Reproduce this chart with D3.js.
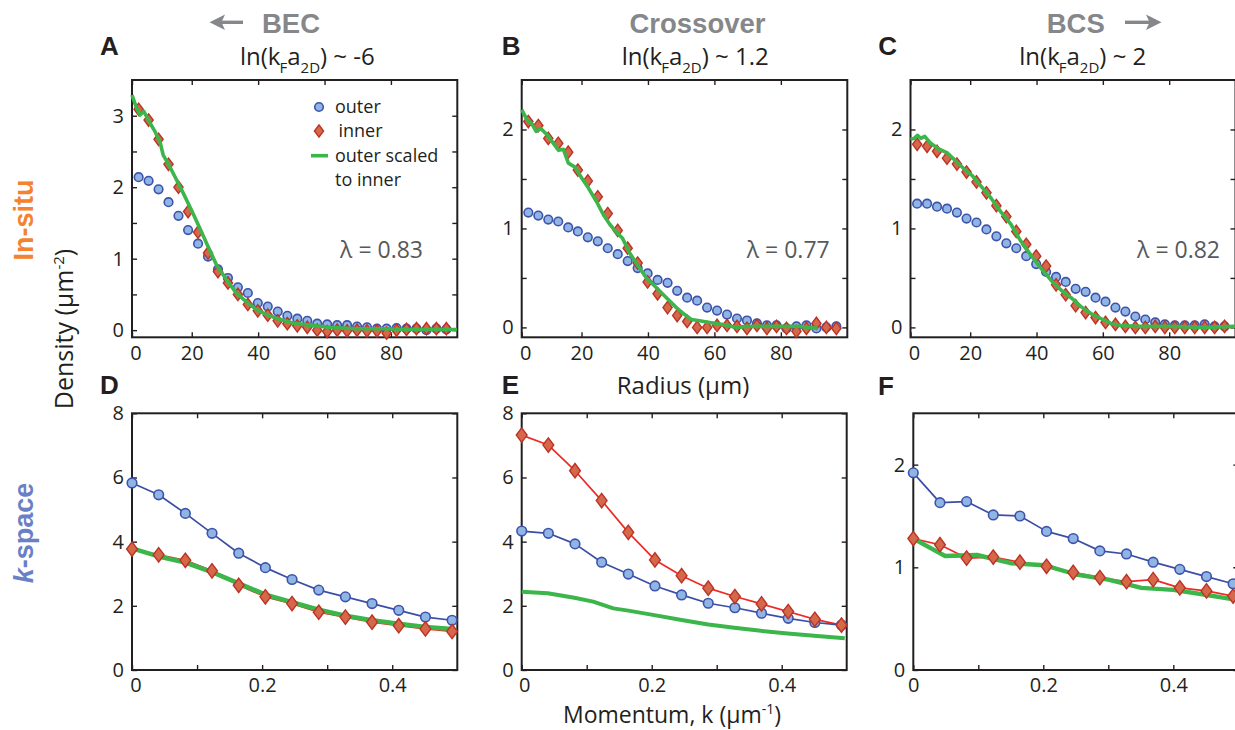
<!DOCTYPE html>
<html><head><meta charset="utf-8">
<script src="https://cdn.jsdelivr.net/npm/d3@7"></script>
<style>body{margin:0;background:#fff} svg{display:block}</style>
</head><body><svg id="c" width="1235" height="730"></svg>
<script>
// ---------- DATA ----------
const inSituR = [4.0, 7.0, 10.0, 13.0, 16.0, 18.9, 21.9, 24.9, 27.9, 30.9, 33.9, 36.9, 39.9, 42.9, 45.9, 48.8,
  51.8, 54.8, 57.8, 60.8, 63.8, 66.8, 69.8, 72.8, 75.8, 78.7, 81.7, 84.7, 87.7, 90.7, 93.7, 96.7];

const outerA = [2.14, 2.09, 1.97, 1.79, 1.60, 1.40, 1.21, 1.03, 0.85, 0.73, 0.60, 0.52, 0.38, 0.33, 0.26, 0.20,
  0.16, 0.13, 0.09, 0.08, 0.07, 0.07, 0.05, 0.04, 0.02, 0.02, 0.03, 0.02, 0.02, 0.00, 0.02, 0.01];
const innerA = [3.09, 2.94, 2.67, 2.32, 2.00, 1.66, 1.37, 1.08, 0.82, 0.66, 0.50, 0.36, 0.27, 0.21, 0.13, 0.09,
  0.06, 0.04, 0.00, -0.02, 0.00, -0.01, 0.00, -0.01, -0.01, -0.04, 0.00, 0.01, 0.02, 0.02, 0.02, 0.02];
const scaledAr = [2.0, 3.2, 4.4, 5.6, 6.9, 8.9, 10.4, 11.4, 12.9, 14.9, 17.4, 19.9, 22.4, 24.9, 27.4, 30.4, 33.4,
  36.4, 39.4, 42.4, 45.9, 50.4, 55.4, 61.4, 69.4, 77.4, 85.4, 93.4, 99.9];
const scaledA = [3.29, 3.13, 3.01, 3.06, 2.94, 2.78, 2.64, 2.45, 2.33, 2.15, 1.92, 1.68, 1.43, 1.17, 0.92, 0.71, 0.52,
  0.40, 0.29, 0.22, 0.16, 0.10, 0.07, 0.04, 0.02, 0.02, 0.01, 0.01, 0.01];

const outerB = [1.16, 1.13, 1.09, 1.07, 1.01, 0.97, 0.91, 0.87, 0.80, 0.74, 0.67, 0.60, 0.545, 0.48, 0.45, 0.37,
  0.30, 0.27, 0.20, 0.17, 0.13, 0.09, 0.07, 0.04, 0.02, 0.02, -0.01, 0.01, 0.02, -0.01, 0.00, 0.01];
const innerB = [2.08, 2.04, 1.91, 1.86, 1.77, 1.59, 1.48, 1.32, 1.15, 0.98, 0.80, 0.65, 0.46, 0.34, 0.20, 0.12,
  0.06, 0.00, 0.00, 0.02, 0.02, 0.01, -0.01, 0.02, -0.01, 0.01, -0.01, -0.04, -0.01, 0.04, 0.00, -0.01];
const scaledBr = [2.05, 3.55, 5.05, 6.35, 7.75, 9.55, 11.55, 13.05, 14.55, 16.05, 18.05, 20.05, 22.05, 24.55, 26.75,
  28.55, 30.55, 32.35, 34.55, 37.05, 39.55, 42.55, 45.55, 48.55, 51.05, 53.05, 55.05, 58.55, 62.55, 66.55, 69.55,
  74.55, 80.55, 85.55, 91.05];
const scaledB = [2.20, 2.10, 2.06, 1.98, 2.01, 1.95, 1.86, 1.79, 1.80, 1.66, 1.62, 1.51, 1.41, 1.27, 1.13,
  1.04, 0.96, 0.90, 0.75, 0.62, 0.50, 0.40, 0.30, 0.20, 0.13, 0.08, 0.07, 0.05, 0.03, 0.00, 0.01,
  0.01, 0.01, 0.01, -0.01];

const outerC = [1.25, 1.25, 1.22, 1.20, 1.16, 1.10, 1.06, 0.99, 0.92, 0.85, 0.80, 0.72, 0.64, 0.56, 0.51, 0.46,
  0.39, 0.36, 0.30, 0.26, 0.20, 0.16, 0.11, 0.08, 0.05, 0.03, 0.02, 0.02, 0.02, 0.03, 0.01, 0.01];
const innerC = [1.85, 1.83, 1.78, 1.71, 1.65, 1.57, 1.47, 1.36, 1.23, 1.12, 0.97, 0.84, 0.72, 0.62, 0.43, 0.33,
  0.22, 0.15, 0.10, 0.05, 0.03, 0.01, 0.00, 0.00, 0.01, 0.00, 0.00, 0.00, 0.00, 0.00, 0.00, 0.01];
const scaledCr = [2.0, 3.1, 4.1, 5.1, 6.3, 8.1, 10.2, 13.2, 15.7, 18.2, 20.7, 23.7, 26.2, 29.2, 32.3, 35.3, 38.3,
  41.3, 44.3, 47.3, 50.4, 53.4, 56.4, 59.4, 62.4, 65.4, 70.4, 80.5, 90.6, 99.9];
const scaledC = [1.90, 1.91, 1.94, 1.91, 1.93, 1.86, 1.81, 1.76, 1.68, 1.60, 1.53, 1.41, 1.31, 1.17, 1.04, 0.87, 0.73,
  0.60, 0.48, 0.38, 0.30, 0.21, 0.14, 0.09, 0.04, 0.02, 0.01, 0.01, 0.00, 0.01];

const kPts = [0, 0.041, 0.082, 0.123, 0.164, 0.205, 0.246, 0.287, 0.328, 0.369, 0.410, 0.451, 0.492];
const outerD = [5.83, 5.46, 4.88, 4.26, 3.64, 3.19, 2.82, 2.49, 2.28, 2.07, 1.86, 1.65, 1.55];
const innerD = [3.77, 3.59, 3.42, 3.09, 2.64, 2.28, 2.07, 1.80, 1.65, 1.49, 1.38, 1.28, 1.20];
const scaledDk = [0, 0.041, 0.082, 0.123, 0.164, 0.205, 0.246, 0.287, 0.328, 0.369, 0.410, 0.451, 0.492];
const scaledD = [3.79, 3.54, 3.35, 3.05, 2.70, 2.35, 2.11, 1.88, 1.69, 1.55, 1.44, 1.34, 1.28];

const outerE = [4.33, 4.26, 3.93, 3.36, 2.99, 2.62, 2.34, 2.08, 1.94, 1.77, 1.61, 1.48, 1.40];
const innerE = [7.32, 7.01, 6.21, 5.28, 4.29, 3.43, 2.94, 2.55, 2.29, 2.06, 1.82, 1.58, 1.40];
const scaledEk = [0, 0.04, 0.081, 0.11, 0.141, 0.164, 0.204, 0.246, 0.287, 0.327, 0.368, 0.409, 0.45, 0.497];
const scaledE = [2.44, 2.39, 2.25, 2.13, 1.92, 1.85, 1.71, 1.56, 1.42, 1.32, 1.22, 1.14, 1.07, 0.99];

const outerF = [1.92, 1.63, 1.64, 1.51, 1.50, 1.35, 1.28, 1.16, 1.13, 1.05, 0.98, 0.91, 0.84];
const innerF = [1.28, 1.22, 1.09, 1.10, 1.05, 1.01, 0.95, 0.90, 0.86, 0.88, 0.80, 0.77, 0.72];
const scaledFk = [0, 0.049, 0.098, 0.150, 0.202, 0.251, 0.300, 0.351, 0.400, 0.452, 0.500];
const scaledF = [1.28, 1.11, 1.12, 1.04, 1.02, 0.93, 0.88, 0.80, 0.78, 0.73, 0.68];

// ticks
const rTickVals = [2, 20, 40, 60, 80];
const rTickLabels = ["0", "20", "40", "60", "80"];
const kTickVals = [0, 0.1, 0.2, 0.3, 0.4];
const kTickLabels = ["0", "", "0.2", "", "0.4"];
const yTicksA = [0, 0.5, 1, 1.5, 2, 2.5, 3];
const yLabelsA = ["0", "", "1", "", "2", "", "3"];
const yTicksBC = [0, 0.5, 1, 1.5, 2];
const yLabelsBC = ["0", "", "1", "", "2"];
const yTicksDE = [0, 2, 4, 6, 8];
const yLabelsDE = ["0", "2", "4", "6", "8"];
const yTicksF = [0, 1, 2];
const yLabelsF = ["0", "1", "2"];

const lambdas = ["λ = 0.83", "λ = 0.77", "λ = 0.82"];
const regimes = ["BEC", "Crossover", "BCS"];
const couplings = ["-6", "1.2", "2"];

// ---------- STYLE ----------
const FONT = "'Open Sans', 'Noto Sans', 'DejaVu Sans', sans-serif";
const BOLD = "'Liberation Sans', Arial, sans-serif";
const INK = "#231f20";
const C_CIRC_FILL = "#8fb5e4", C_CIRC_STROKE = "#3f52ab", C_BLUE = "#3b4ea6";
const C_DIA_FILL = "#d5674b", C_DIA_STROKE = "#bb3324", C_RED = "#ee2a26";
const C_GREEN = "#3cb54a";

const svg = d3.select("#c");

function diamond(w, h) { return `M0,${-h}L${w},0L0,${h}L${-w},0Z`; }

function panel(cfg) {
  const x = d3.scaleLinear().domain(cfg.xd).range([cfg.l, cfg.r]);
  const y = d3.scaleLinear().domain(cfg.yd).range([cfg.b, cfg.t]);
  const g = svg.append("g");
  const tl = 5;
  const xLab = new Map(cfg.xTicks.map((v, i) => [v, cfg.xLabels[i]]));
  const yLab = new Map(cfg.yTicks.map((v, i) => [v, cfg.yLabels[i]]));
  const styleAxis = sel => {
    sel.select(".domain").remove();
    sel.selectAll(".tick line").attr("stroke", INK).attr("stroke-width", 1.4);
    sel.selectAll(".tick text").attr("fill", INK).style("font-family", FONT).style("font-size", "20px");
    sel.selectAll(".tick text").filter(function () { return this.textContent === ""; }).remove();
  };
  g.append("g").attr("transform", `translate(${cfg.l},0)`)
    .call(d3.axisLeft(y).tickValues(cfg.yTicks).tickSize(-tl).tickPadding(8).tickFormat(d => yLab.get(d)))
    .call(styleAxis);
  g.append("g").attr("transform", `translate(${cfg.r},0)`)
    .call(d3.axisRight(y).tickValues(cfg.yTicks).tickSize(-tl).tickFormat(() => ""))
    .call(styleAxis);
  const bx = g.append("g").attr("transform", `translate(0,${cfg.b})`)
    .call(d3.axisBottom(x).tickValues(cfg.xTicks).tickSize(-tl).tickPadding(cfg.xPad).tickFormat(d => xLab.get(d)))
    .call(styleAxis);
  bx.selectAll(".tick text").filter(d => d === cfg.xTicks[0]).attr("dx", cfg.zeroShift || 0);
  g.append("g").attr("transform", `translate(0,${cfg.t})`)
    .call(d3.axisTop(x).tickValues(cfg.xTicks).tickSize(-tl).tickFormat(() => ""))
    .call(styleAxis);
  g.append("rect").attr("x", cfg.l).attr("y", cfg.t).attr("width", cfg.r - cfg.l).attr("height", cfg.b - cfg.t)
    .attr("fill", "none").attr("stroke", INK).attr("stroke-width", 2);
  return { g, x, y };
}

function line(g, xs, ys, x, y, color, w) {
  g.append("path").datum(xs.map((v, i) => [v, ys[i]]))
    .attr("d", d3.line().x(d => x(d[0])).y(d => y(d[1])))
    .attr("fill", "none").attr("stroke", color).attr("stroke-width", w)
    .attr("stroke-linejoin", "round").attr("stroke-linecap", "butt");
}
function circles(g, xs, ys, x, y, r) {
  g.append("g").selectAll("circle").data(xs.map((v, i) => [v, ys[i]])).join("circle")
    .attr("cx", d => x(d[0])).attr("cy", d => y(d[1])).attr("r", r)
    .attr("fill", C_CIRC_FILL).attr("stroke", C_CIRC_STROKE).attr("stroke-width", 1.6);
}
function diamonds(g, xs, ys, x, y, w, h) {
  g.append("g").selectAll("path").data(xs.map((v, i) => [v, ys[i]])).join("path")
    .attr("transform", d => `translate(${x(d[0])},${y(d[1])})`).attr("d", diamond(w, h))
    .attr("fill", C_DIA_FILL).attr("stroke", C_DIA_STROKE).attr("stroke-width", 1.4);
}

// ---------- TOP ROW (in-situ) ----------
const topCfg = [
  { l: 132, r: 457.3, yd: [-0.1, 3.5], yTicks: yTicksA, yLabels: yLabelsA, outer: outerA, inner: innerA, sr: scaledAr, s: scaledA },
  { l: 521.7, r: 847.3, yd: [-0.1, 2.5], yTicks: yTicksBC, yLabels: yLabelsBC, outer: outerB, inner: innerB, sr: scaledBr, s: scaledB },
  { l: 910.5, r: 1235.5, yd: [-0.1, 2.5], yTicks: yTicksBC, yLabels: yLabelsBC, outer: outerC, inner: innerC, sr: scaledCr, s: scaledC }
];
topCfg.forEach((c, i) => {
  const p = panel({ l: c.l, r: c.r, t: 80, b: 337.3, xd: [2, 100], yd: c.yd, xPad: 9,
    xTicks: rTickVals, xLabels: rTickLabels, yTicks: c.yTicks, yLabels: c.yLabels, zeroShift: 3.5 });
  circles(p.g, inSituR, c.outer, p.x, p.y, 4.3);
  diamonds(p.g, inSituR, c.inner, p.x, p.y, 4.6, 6.2);
  line(p.g, c.sr, c.s, p.x, p.y, C_GREEN, 3.6);
});

// ---------- BOTTOM ROW (k-space) ----------
const botCfg = [
  { l: 132, r: 457.3, yd: [0, 8], yTicks: yTicksDE, yLabels: yLabelsDE, outer: outerD, inner: innerD, sk: scaledDk, s: scaledD, gw: 4.6, zs: 3.5 },
  { l: 521.7, r: 846.7, yd: [0, 8], yTicks: yTicksDE, yLabels: yLabelsDE, outer: outerE, inner: innerE, sk: scaledEk, s: scaledE, gw: 4, zs: 2.5 },
  { l: 913.3, r: 1238.3, yd: [0, 2.5], yTicks: yTicksF, yLabels: yLabelsF, outer: outerF, inner: innerF, sk: scaledFk, s: scaledF, gw: 4.4, zs: 0 }
];
botCfg.forEach(c => {
  const p = panel({ l: c.l, r: c.r, t: 413.3, b: 670, xd: [0, 0.5], yd: c.yd, xPad: 8,
    xTicks: kTickVals, xLabels: kTickLabels, yTicks: c.yTicks, yLabels: c.yLabels, zeroShift: c.zs });
  line(p.g, kPts, c.inner, p.x, p.y, C_RED, 1.7);
  line(p.g, c.sk, c.s, p.x, p.y, C_GREEN, c.gw);
  line(p.g, kPts, c.outer, p.x, p.y, C_BLUE, 1.7);
  circles(p.g, kPts, c.outer, p.x, p.y, 4.8);
  diamonds(p.g, kPts, c.inner, p.x, p.y, 5.4, 7.2);
});

// ---------- LEGEND (panel A) ----------
const leg = svg.append("g").style("font-family", FONT).style("font-size", "18px").attr("fill", INK);
leg.append("circle").attr("cx", 319).attr("cy", 107).attr("r", 4.3)
  .attr("fill", C_CIRC_FILL).attr("stroke", C_CIRC_STROKE).attr("stroke-width", 1.6);
leg.append("path").attr("transform", "translate(319,131)").attr("d", diamond(4.6, 6.2))
  .attr("fill", C_DIA_FILL).attr("stroke", C_DIA_STROKE).attr("stroke-width", 1.4);
leg.append("line").attr("x1", 311).attr("x2", 328).attr("y1", 155.7).attr("y2", 155.7)
  .attr("stroke", C_GREEN).attr("stroke-width", 3.6);
leg.append("text").attr("x", 335).attr("y", 113).text("outer");
leg.append("text").attr("x", 338.5).attr("y", 137).text("inner");
leg.append("text").attr("x", 335).attr("y", 161.5).text("outer scaled");
leg.append("text").attr("x", 335).attr("y", 186).text("to inner");

// ---------- λ labels ----------
[[423, 258], [829.7, 258], [1220, 258]].forEach((pos, i) => {
  svg.append("text").attr("x", pos[0]).attr("y", pos[1]).attr("text-anchor", "end")
    .style("font-family", FONT).style("font-size", "23px").attr("fill", "#58595b").text(lambdas[i]);
});

// ---------- panel letters ----------
[["A", 100, 55], ["B", 501.7, 55], ["C", 878.3, 55], ["D", 100, 394], ["E", 501.7, 394], ["F", 878, 395]]
  .forEach(([t, x, y]) => svg.append("text").attr("x", x).attr("y", y)
    .style("font-family", BOLD).style("font-weight", "bold").style("font-size", "26px").attr("fill", INK).text(t));

// ---------- regime headers ----------
const GRAY = "#85878a";
const hdr = svg.append("g").style("font-family", BOLD).style("font-weight", "bold").style("font-size", "27.5px").attr("fill", GRAY);
hdr.append("text").attr("x", 262).attr("y", 33).text(regimes[0]);
hdr.append("text").attr("x", 697.5).attr("y", 33).attr("text-anchor", "middle").text(regimes[1]);
hdr.append("text").attr("x", 1046.7).attr("y", 33).text(regimes[2]);
// arrows
svg.append("line").attr("x1", 243).attr("x2", 218).attr("y1", 22.3).attr("y2", 22.3).attr("stroke", GRAY).attr("stroke-width", 3.4);
svg.append("path").attr("d", "M209.5,22.3L225,14.5L221.5,22.3L225,30.1Z").attr("fill", GRAY);
svg.append("line").attr("x1", 1125).attr("x2", 1152).attr("y1", 22.3).attr("y2", 22.3).attr("stroke", GRAY).attr("stroke-width", 3.4);
svg.append("path").attr("d", "M1161.5,22.3L1146,14.5L1149.5,22.3L1146,30.1Z").attr("fill", GRAY);

// ---------- ln(kF a2D) subtitles ----------
[240, 621.7, 1019.3].forEach((x0, i) => {
  const t = svg.append("text").attr("x", x0).attr("y", 65)
    .style("font-family", FONT).style("font-size", "24px").attr("fill", INK);
  t.append("tspan").text("ln(k");
  t.append("tspan").attr("dy", 8).attr("dx", -1).style("font-size", "15px").text("F");
  t.append("tspan").attr("dy", -8).text("a");
  t.append("tspan").attr("dy", 8).style("font-size", "15px").text("2D");
  t.append("tspan").attr("dy", -8).text(") ~ " + couplings[i]);
});

// ---------- row labels ----------
svg.append("text").attr("transform", "translate(33,220) rotate(-90)").attr("text-anchor", "middle")
  .style("font-family", BOLD).style("font-weight", "bold").style("font-size", "27px").attr("fill", "#f4822f").text("In-situ");
const ks = svg.append("text").attr("transform", "translate(33,533) rotate(-90)").attr("text-anchor", "middle")
  .style("font-family", BOLD).style("font-weight", "bold").style("font-size", "27px").attr("fill", "#6b7fc6");
ks.append("tspan").style("font-style", "italic").text("k");
ks.append("tspan").text("-space");

// ---------- axis titles ----------
const dens = svg.append("text").attr("transform", "translate(73,329) rotate(-90)").attr("text-anchor", "middle")
  .style("font-family", FONT).style("font-size", "25px").attr("fill", INK);
dens.append("tspan").text("Density (μm");
dens.append("tspan").attr("dy", -9).style("font-size", "15px").text("-2");
dens.append("tspan").attr("dy", 9).text(")");

svg.append("text").attr("x", 683).attr("y", 394).attr("text-anchor", "middle")
  .style("font-family", FONT).style("font-size", "24px").attr("fill", INK).text("Radius (μm)");
const mom = svg.append("text").attr("x", 672).attr("y", 722.5).attr("text-anchor", "middle")
  .style("font-family", FONT).style("font-size", "23px").attr("fill", INK);
mom.append("tspan").text("Momentum, k (μm");
mom.append("tspan").attr("dy", -9).style("font-size", "14px").text("-1");
mom.append("tspan").attr("dy", 9).text(")");
</script></body></html>
